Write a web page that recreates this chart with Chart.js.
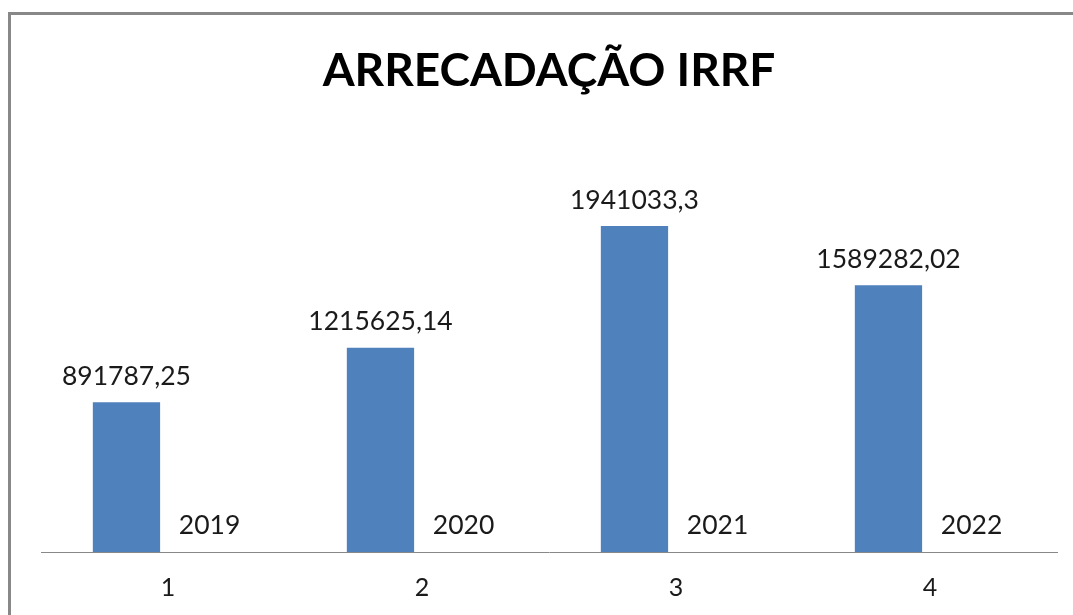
<!DOCTYPE html>
<html>
<head>
<meta charset="utf-8">
<script src="https://cdn.jsdelivr.net/npm/chart.js@4.4.0/dist/chart.umd.min.js"></script>
<style>
    html, body { margin: 0; padding: 0; background: #fff; overflow: hidden; }
    #moldura {
        position: absolute; left: 8px; top: 12px; width: 1100px; height: 640px;
        border-top: 3px solid #888; border-left: 3px solid #888;
    }
    #grafico { position: absolute; left: 0; top: 0; }
</style>
</head>
<body>
<div id="moldura"></div>
<canvas id="grafico" width="1073" height="615"></canvas>
<script>
const categorias = ['1', '2', '3', '4'];
const arrecadacao = [891787.25, 1215625.14, 1941033.3, 1589282.02];
const anos = [2019, 2020, 2021, 2022];

// rótulos de dados no estilo do Excel (vírgula decimal)
const rotulos = {
    id: 'rotulos',
    afterDatasetsDraw(chart) {
        const ctx = chart.ctx;
        ctx.save();
        ctx.font = '26.5px Lato';
        ctx.fillStyle = '#1a1a1a';
        ctx.textAlign = 'center';
        ctx.textBaseline = 'middle';
        chart.data.datasets.forEach(function(ds, i) {
            chart.getDatasetMeta(i).data.forEach(function(bar, j) {
                const texto = String(ds.data[j]).replace('.', ',');
                ctx.fillText(texto, bar.x, bar.y - 26);
            });
        });
        ctx.restore();
    }
};

const config = {
    type: 'bar',
    data: {
        labels: categorias,
        datasets: [{
            label: 'Arrecadação',
            data: arrecadacao,
            backgroundColor: '#4F81BD',
            categoryPercentage: 0.654,
            barPercentage: 0.81
        }, {
            label: 'Ano',
            data: anos,
            backgroundColor: 'rgba(79,129,189,0)',
            categoryPercentage: 0.654,
            barPercentage: 0.81
        }]
    },
    options: {
        responsive: false,
        animation: false,
        layout: {
            padding: { left: 41, right: 16, top: 0, bottom: 14 }
        },
        plugins: {
            legend: { display: false },
            tooltip: { enabled: false },
            title: {
                display: true,
                text: 'ARRECADAÇÃO IRRF',
                color: '#000',
                font: { family: 'Lato', size: 46, weight: 'bold' },
                padding: { top: 44, bottom: 33 }
            }
        },
        scales: {
            x: {
                grid: { display: false, drawTicks: false },
                border: { display: true, color: '#888', width: 1 },
                ticks: {
                    color: '#1a1a1a',
                    font: { family: 'Lato', size: 25 },
                    padding: 21
                },
                afterFit: function(scale) { scale.height = 49; }
            },
            y: {
                display: false,
                min: 0,
                max: 2500000
            }
        }
    },
    plugins: [rotulos]
};

const context = document.getElementById('grafico').getContext('2d');
const grafico = new Chart(context, config);
</script>
</body>
</html>
